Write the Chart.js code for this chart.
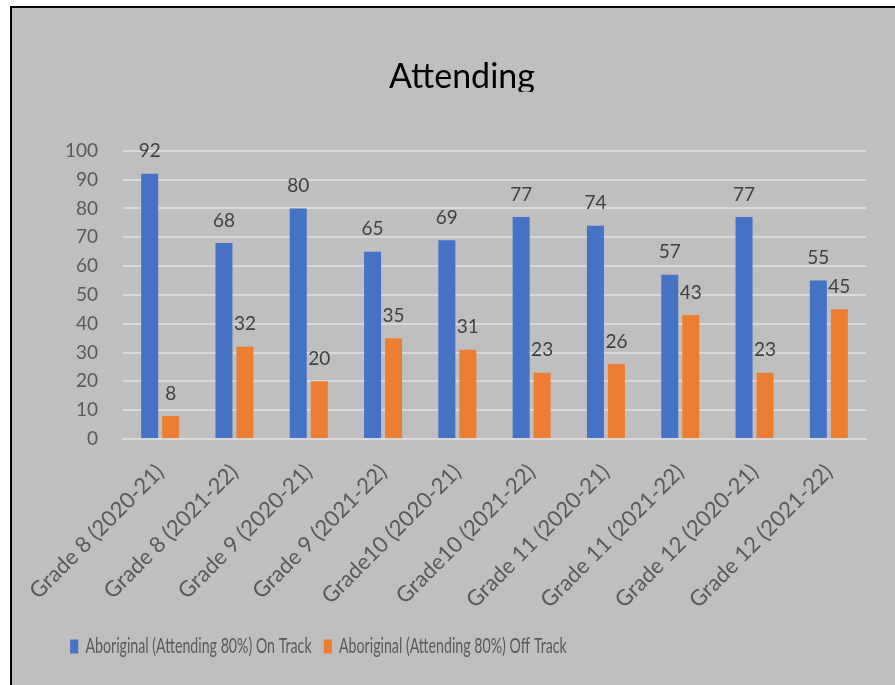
<!DOCTYPE html>
<html>
<head>
<meta charset="utf-8">
<title>Attending</title>
<script src="https://cdn.jsdelivr.net/npm/chart.js@4"></script>
<style>
  html, body { margin: 0; padding: 0; background: #fff; overflow: hidden; }
  #frame {
    position: absolute; left: 10px; top: 6px;
    width: 900px; height: 700px;
    background: #bfbfbf;
    border-top: 2px solid #000; border-left: 2px solid #000;
  }
  #wrap { position: absolute; left: 0; top: 0; width: 883px; height: 677px; }
</style>
</head>
<body>
<div id="frame"><div id="wrap"><canvas id="chart"></canvas></div></div>
<script>
const categories = [
  'Grade 8 (2020-21)', 'Grade 8 (2021-22)', 'Grade 9 (2020-21)', 'Grade 9 (2021-22)',
  'Grade10 (2020-21)', 'Grade10 (2021-22)', 'Grade 11 (2020-21)', 'Grade 11 (2021-22)',
  'Grade 12 (2020-21)', 'Grade 12 (2021-22)'
];
const onTrack = [92, 68, 80, 65, 69, 77, 74, 57, 77, 55];
const offTrack = [8, 32, 20, 35, 31, 23, 26, 43, 23, 45];
const yTicks = [0, 10, 20, 30, 40, 50, 60, 70, 80, 90, 100];

const FONT = 'Lato, "Open Sans", sans-serif';
const BG = '#bfbfbf';
const LEGEND_SQUEEZE = 0.676;

// value labels above each bar
const barLabels = {
  id: 'barLabels',
  afterDatasetsDraw(chart) {
    const ctx = chart.ctx;
    ctx.save();
    ctx.font = '19px ' + FONT;
    ctx.fillStyle = '#404040';
    ctx.textAlign = 'center';
    ctx.textBaseline = 'bottom';
    chart.data.datasets.forEach((ds, i) => {
      chart.getDatasetMeta(i).data.forEach((bar, j) => {
        ctx.fillText(String(ds.data[j]), bar.x, bar.y - 13);
      });
    });
    ctx.restore();
  }
};

// narrow legend text: squeeze the legend horizontally from its left edge
const narrowLegend = {
  id: 'narrowLegend',
  beforeDraw(chart) {
    const legend = chart.legend;
    if (!legend || legend._narrow) return;
    const draw = legend.draw;
    legend.draw = function (...args) {
      const ctx = this.ctx;
      ctx.save();
      ctx.translate(this.left, 0);
      ctx.scale(LEGEND_SQUEEZE, 1);
      ctx.translate(-this.left, 0);
      draw.apply(this, args);
      ctx.restore();
    };
    legend._narrow = true;
  }
};

// the title box is cut off just under the baseline
const titleCut = {
  id: 'titleCut',
  afterDraw(chart) {
    const t = chart.titleBlock;
    if (!t) return;
    const ctx = chart.ctx;
    ctx.save();
    ctx.fillStyle = BG;
    ctx.fillRect(t.left, 84, t.width, 14);
    ctx.restore();
  }
};

new Chart(document.getElementById('chart'), {
  type: 'bar',
  data: {
    labels: categories,
    datasets: [
      { label: 'Aboriginal (Attending 80%) On Track', data: onTrack, backgroundColor: '#4472c4' },
      { label: 'Aboriginal (Attending 80%) Off Track', data: offTrack, backgroundColor: '#ed7d31' }
    ]
  },
  options: {
    responsive: true,
    maintainAspectRatio: false,
    animation: false,
    categoryPercentage: 0.565,
    barPercentage: 0.81,
    layout: { padding: { left: 46, right: 29, top: 0, bottom: 18 } },
    plugins: {
      title: {
        display: true,
        text: 'Attending',
        color: '#000',
        font: { family: FONT, size: 34, weight: 'normal' },
        padding: { top: 49, bottom: 53 }
      },
      legend: {
        position: 'bottom',
        align: 'start',
        labels: {
          color: '#595959',
          font: { family: FONT, size: 21 },
          boxWidth: 12,
          boxHeight: 14,
          padding: 18
        }
      },
      tooltip: { enabled: false }
    },
    scales: {
      x: {
        afterFit(scale) {
          scale.height = 179;
          scale.paddingLeft = 0;
          scale.paddingRight = 0;
        },
        grid: { display: false, drawTicks: false },
        border: { display: true, color: '#d9d9d9', width: 2 },
        ticks: {
          color: '#595959',
          font: { family: FONT, size: 22 },
          maxRotation: 45,
          minRotation: 45,
          padding: 20
        }
      },
      y: {
        min: 0,
        max: 100,
        afterFit(scale) { scale.width = 65; },
        afterBuildTicks(scale) { scale.ticks = yTicks.map(v => ({ value: v })); },
        grid: { color: '#d9d9d9', lineWidth: 2, drawTicks: false },
        border: { display: false },
        ticks: {
          color: '#595959',
          font: { family: FONT, size: 19 },
          padding: 25
        }
      }
    }
  },
  plugins: [barLabels, narrowLegend, titleCut]
});
</script>
</body>
</html>
